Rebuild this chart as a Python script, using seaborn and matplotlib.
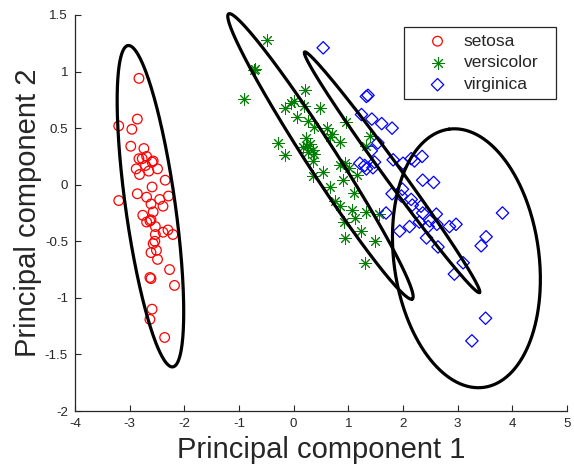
import numpy as np
import pandas as pd
import matplotlib
matplotlib.use("Agg")
import matplotlib.pyplot as plt
import seaborn as sns

# ---------------- data ----------------
species = ["setosa", "versicolor", "virginica"]

setosa_pc1 = [-2.83, -2.86, -3.20, -2.96, -2.98, -2.74, -2.83, -2.77, -2.69, -2.59,
              -2.57, -2.88, -2.71, -2.65, -2.49, -2.82, -2.59, -2.35, -2.86, -3.20,
              -2.69, -2.61, -2.45, -2.29, -2.39, -2.57, -2.76, -2.69, -2.63, -2.61,
              -2.53, -2.39, -2.30, -2.21, -2.53, -2.54, -2.57, -2.51, -2.61, -2.49,
              -2.27, -2.18, -2.63, -2.61, -2.59, -2.63, -2.36]
setosa_pc2 = [0.94, 0.58, 0.52, 0.49, 0.34, 0.32, 0.23, 0.23, 0.25, 0.20,
              0.21, 0.14, 0.17, 0.12, 0.14, 0.09, -0.02, 0.04, -0.08, -0.14,
              -0.11, -0.17, -0.13, -0.10, -0.19, -0.24, -0.27, -0.33, -0.32, -0.31,
              -0.37, -0.42, -0.40, -0.44, -0.44, -0.50, -0.52, -0.58, -0.60, -0.66,
              -0.75, -0.89, -0.82, -0.83, -1.10, -1.19, -1.35]

versicolor_pc1 = [-0.49, -0.70, -0.73, -0.90, 0.21, -0.16, -0.05, 0.00, 0.18, 0.49,
                  0.06, 0.27, 0.38, 0.61, 0.67, 0.96, -0.29, 0.23, 0.24, 0.29,
                  0.17, 0.35, 0.26, 0.38, 0.35, -0.16, 0.84, 1.39, 1.33, 0.35,
                  0.54, 0.84, 0.93, 1.02, 1.15, 0.66, 0.91, 1.10, 0.75, 0.84,
                  1.06, 1.12, 1.33, 1.57, 0.92, 1.24, 1.48, 0.93, 1.30, 0.71]
versicolor_pc2 = [1.28, 1.02, 1.01, 0.76, 0.84, 0.68, 0.72, 0.74, 0.70, 0.68,
                  0.60, 0.56, 0.51, 0.50, 0.42, 0.55, 0.37, 0.41, 0.34, 0.36,
                  0.33, 0.31, 0.29, 0.27, 0.21, 0.26, 0.38, 0.43, 0.34, 0.08,
                  0.11, 0.17, 0.19, 0.15, 0.09, -0.02, 0.04, -0.07, -0.14, -0.19,
                  -0.22, -0.29, -0.24, -0.26, -0.33, -0.41, -0.50, -0.47, -0.69, 0.45]

virginica_pc1 = [0.54, 1.33, 1.36, 1.24, 1.43, 1.61, 1.80, 1.54, 1.42, 1.21,
                 1.30, 1.33, 1.45, 1.48, 1.82, 2.00, 2.15, 2.21, 2.35, 2.36,
                 2.56, 1.80, 1.99, 1.97, 2.15, 2.17, 2.33, 2.36, 2.61, 2.49,
                 2.46, 2.62, 1.69, 1.94, 2.12, 2.43, 2.64, 2.85, 2.97, 3.82,
                 3.52, 3.43, 3.10, 2.94, 3.51, 3.26, 2.30]
virginica_pc2 = [1.21, 0.78, 0.79, 0.62, 0.58, 0.54, 0.50, 0.37, 0.30, 0.19,
                 0.17, 0.14, 0.15, 0.20, 0.22, 0.19, 0.23, 0.21, 0.25, 0.04,
                 0.02, -0.08, -0.04, -0.10, -0.13, -0.18, -0.19, -0.25, -0.26, -0.32,
                 -0.37, -0.35, -0.25, -0.41, -0.37, -0.47, -0.55, -0.37, -0.35, -0.25,
                 -0.46, -0.54, -0.69, -0.79, -1.18, -1.38, -0.33]

# ellipses: centre and two conjugate semi-diameters (data units)
ell_cx = [-2.62, 0.49, 1.80, 3.16]
ell_cy = [-0.19, 0.25, 0.11, -0.65]
ell_ax = [-0.41, 1.68, 1.60, -0.318]
ell_ay = [1.42, -1.26, -1.063, 1.141]
ell_bx = [0.45, 0.23, 0.126, 1.315]
ell_by = [0.03, 0.072, 0.044, 0.086]

xticks = [-4, -3, -2, -1, 0, 1, 2, 3, 4, 5]
yticks = [-2, -1.5, -1, -0.5, 0, 0.5, 1, 1.5]

# ---------------- styling ----------------
sns.set_theme(style="white")
plt.rcParams["font.family"] = ["Liberation Sans", "DejaVu Sans"]
plt.rcParams["axes.edgecolor"] = "#262626"
plt.rcParams["xtick.direction"] = "in"
plt.rcParams["ytick.direction"] = "in"

fig = plt.figure(figsize=(5.74, 4.73), dpi=100)
ax = fig.add_axes([75 / 574, 1 - 411 / 473, 492 / 574, 396 / 473])

frames = []
for name, xs, ys in [("setosa", setosa_pc1, setosa_pc2),
                     ("versicolor", versicolor_pc1, versicolor_pc2),
                     ("virginica", virginica_pc1, virginica_pc2)]:
    frames.append(pd.DataFrame({"pc1": xs, "pc2": ys, "species": name}))
df = pd.concat(frames, ignore_index=True)

styles = {
    "setosa": dict(marker="o", s=48, facecolor="none", edgecolor="#ff0000", linewidth=0.9),
    "versicolor": dict(marker=(8, 2, 0), s=70, color="#008000", edgecolor="#008000", linewidth=0.7),
    "virginica": dict(marker="D", s=40, facecolor="none", edgecolor="#0000ff", linewidth=0.9),
}
for name in species:
    sub = df[df["species"] == name]
    sns.scatterplot(data=sub, x="pc1", y="pc2", ax=ax, label=name, zorder=3, **styles[name])

t = np.linspace(0, 2 * np.pi, 400)
for cx, cy, axx, ayy, bxx, byy in zip(ell_cx, ell_cy, ell_ax, ell_ay, ell_bx, ell_by):
    ex = cx + np.cos(t) * axx + np.sin(t) * bxx
    ey = cy + np.cos(t) * ayy + np.sin(t) * byy
    sns.lineplot(x=ex, y=ey, sort=False, estimator=None, color="black",
                 linewidth=2.3, ax=ax, zorder=4, clip_on=False)

ax.set_xlim(-4, 5)
ax.set_ylim(-2, 1.5)
ax.set_xticks(xticks)
ax.set_xticklabels([f"{v:g}" for v in xticks])
ax.set_yticks(yticks)
ax.set_yticklabels([f"{v:g}" for v in yticks])
ax.tick_params(axis="both", which="both", direction="in", length=4, width=0.8,
               labelsize=9.6, colors="#262626", left=True, bottom=True, pad=5)
for s in ["top", "right"]:
    ax.spines[s].set_visible(False)
for s in ["left", "bottom"]:
    ax.spines[s].set_linewidth(0.9)

ax.set_xlabel("Principal component 1", fontsize=21, color="#262626", labelpad=4)
ax.set_ylabel("Principal component 2", fontsize=21, color="#262626", labelpad=2)

leg_x0 = (404 - 75) / 492
leg_top = (411 - 27) / 396
leg_w = (556 - 404) / 492
leg = ax.legend(loc="upper left", bbox_to_anchor=(leg_x0, leg_top - 0.2, leg_w, 0.2),
                mode="expand", fontsize=12.5, frameon=True, fancybox=False,
                edgecolor="#262626", framealpha=1, handletextpad=-0.05, borderpad=0.38,
                labelspacing=0.38, handlelength=3.1, borderaxespad=0)
leg.get_frame().set_linewidth(0.9)
for txt in leg.get_texts():
    txt.set_color("#262626")

fig.savefig("out.png", dpi=100)
